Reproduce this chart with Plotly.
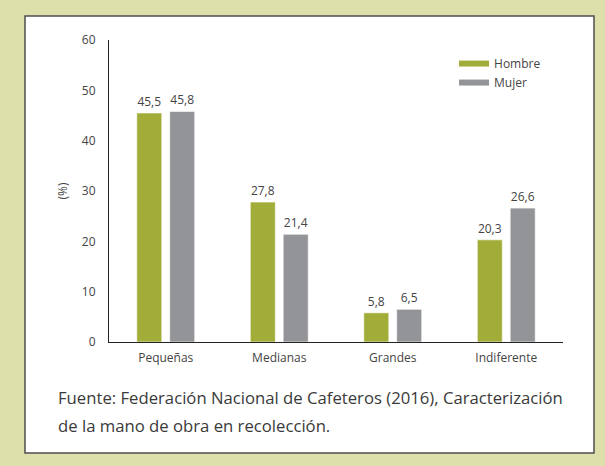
import plotly.graph_objects as go

categorias = ['Pequeñas', 'Medianas', 'Grandes', 'Indiferente']
hombre = [45.5, 27.8, 5.8, 20.3]
mujer = [45.8, 21.4, 6.5, 26.6]
y_ticks = [0, 10, 20, 30, 40, 50, 60]
nota = ['Fuente: Federación Nacional de Cafeteros (2016), Caracterización',
        'de la mano de obra en recolección.']

VERDE = '#a2ad39'
GRIS = '#939497'
FONDO = '#dde0aa'
FUENTE = 'Open Sans, sans-serif'

fig = go.Figure()

for nombre, valores, color in [('Hombre', hombre, VERDE), ('Mujer', mujer, GRIS)]:
    fig.add_trace(go.Bar(
        x=categorias,
        y=valores,
        name=nombre,
        marker=dict(color=color, line=dict(color='rgba(255,255,255,0.6)', width=1)),
        text=[f'{v:.1f}'.replace('.', ',') for v in valores],
        textposition='outside',
        textfont=dict(size=12, color='#444444'),
        cliponaxis=False,
        showlegend=False,
    ))
    # legend swatch as a short thick line
    fig.add_trace(go.Scatter(
        x=[None], y=[None], mode='lines', name=nombre,
        line=dict(color=color, width=6),
    ))

# white panel with dark border
W, H = 605, 466
ml, mr, mt, mb = 109, 42, 40, 124
pw, ph = W - ml - mr, H - mt - mb
fig.add_shape(
    type='rect', xref='paper', yref='paper', layer='below',
    x0=(25 - ml) / pw, x1=(594 - ml) / pw,
    y0=(H - mb - 453) / ph, y1=(H - mb - 16) / ph,
    fillcolor='white', line=dict(color='#4d4d4d', width=1.5),
)

# footnote, one annotation per line
for linea, yc in zip(nota, [397, 425]):
    fig.add_annotation(
        xref='paper', yref='paper', x=(56 - ml) / pw, y=(H - mb - yc) / ph,
        xanchor='left', yanchor='middle', align='left', showarrow=False,
        text=linea,
        font=dict(size=16.7, color='#3a3a3a', family=FUENTE),
    )

fig.update_layout(
    width=W, height=H,
    margin=dict(l=ml, r=mr, t=mt, b=mb),
    paper_bgcolor=FONDO,
    plot_bgcolor='rgba(0,0,0,0)',
    font=dict(family=FUENTE, size=12, color='#444444'),
    barmode='group',
    bargap=0.42,
    bargroupgap=0.24,
    legend=dict(
        x=0.76, y=0.97, xanchor='left', yanchor='top',
        bgcolor='rgba(0,0,0,0)', font=dict(size=12, color='#444444'),
        itemwidth=30, tracegroupgap=0,
    ),
    xaxis=dict(
        showline=True, linecolor='#222222', linewidth=1,
        showgrid=False, ticks='', ticklabelstandoff=5,
        tickfont=dict(size=12, color='#444444'),
    ),
    yaxis=dict(
        range=[0, 60], tickvals=y_ticks,
        showline=True, linecolor='#222222', linewidth=1,
        showgrid=False, zeroline=False, ticks='', ticklabelstandoff=10,
        tickfont=dict(size=12, color='#444444'),
        title=dict(text='(%)', standoff=11, font=dict(size=12, color='#444444')),
    ),
)

fig.write_html('out.html', config={'displayModeBar': False},
               post_script="document.body.style.margin='0';")
